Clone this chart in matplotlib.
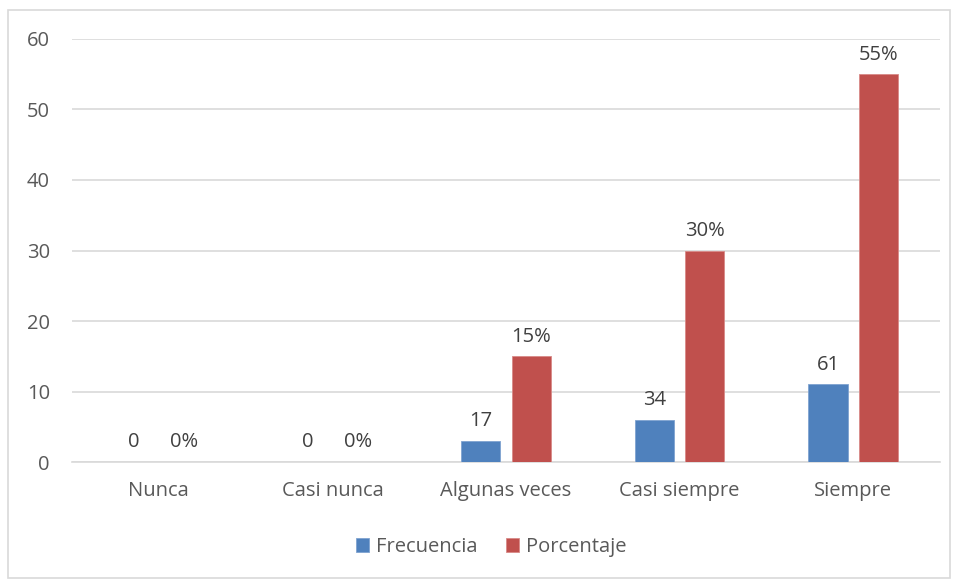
import matplotlib.pyplot as plt
import numpy as np
from matplotlib.patches import Rectangle

# datos
categorias = ['Nunca', 'Casi nunca', 'Algunas veces', 'Casi siempre', 'Siempre']
frecuencia = [0, 0, 3, 6, 11]          # altura de las barras azules
frecuencia_etq = ['0', '0', '17', '34', '61']
porcentaje = [0, 0, 15, 30, 55]
porcentaje_etq = ['0%', '0%', '15%', '30%', '55%']

plt.rcParams['font.family'] = ['Open Sans', 'DejaVu Sans']
gris = '#595959'
fs = 14.5

fig = plt.figure(figsize=(9.58, 5.8), dpi=100)
ax = fig.add_axes([0.0752, 0.2034, 0.906, 0.7294])

x = np.arange(len(categorias))
w = 0.225
b1 = ax.bar(x - 0.145, frecuencia, w, color='#4F81BD', edgecolor='#7fa3d0', linewidth=0.6, label='Frecuencia', zorder=3)
b2 = ax.bar(x + 0.145, porcentaje, w, color='#C0504D', edgecolor='#d88a88', linewidth=0.6, label='Porcentaje', zorder=3)

for rect, t in zip(b1, frecuencia_etq):
    ax.annotate(t, (rect.get_x() + rect.get_width() / 2, rect.get_height()),
                xytext=(0, 7), textcoords='offset points', ha='center', va='bottom',
                fontsize=fs, color='#404040')
for rect, t in zip(b2, porcentaje_etq):
    ax.annotate(t, (rect.get_x() + rect.get_width() / 2, rect.get_height()),
                xytext=(0, 7), textcoords='offset points', ha='center', va='bottom',
                fontsize=fs, color='#404040')

ax.set_xlim(-0.5, len(categorias) - 0.5)
ax.set_ylim(0, 60)
ax.set_yticks(range(0, 61, 10))
ax.set_xticks(x)
ax.set_xticklabels(categorias)
ax.grid(axis='y', color='#d9d9d9', linewidth=1.2, zorder=0)
ax.tick_params(length=0, labelsize=fs, colors=gris)
ax.tick_params(axis='x', pad=14)
ax.tick_params(axis='y', pad=16)
for s in ['top', 'right', 'left']:
    ax.spines[s].set_visible(False)
ax.spines['bottom'].set_color('#d9d9d9')
ax.spines['bottom'].set_linewidth(1.2)

leg = fig.legend(loc='center', bbox_to_anchor=(0.513, 0.057), ncol=2, frameon=False,
                 fontsize=fs, handlelength=0.65, handleheight=0.65, handletextpad=0.35,
                 columnspacing=1.4)
for t in leg.get_texts():
    t.set_color(gris)

# borde exterior
fig.patches.append(Rectangle((8 / 958, 2 / 580), 942 / 958, 568 / 580, transform=fig.transFigure,
                             fill=False, edgecolor='#d9d9d9', linewidth=1.2))

plt.savefig('out.png', dpi=100)
